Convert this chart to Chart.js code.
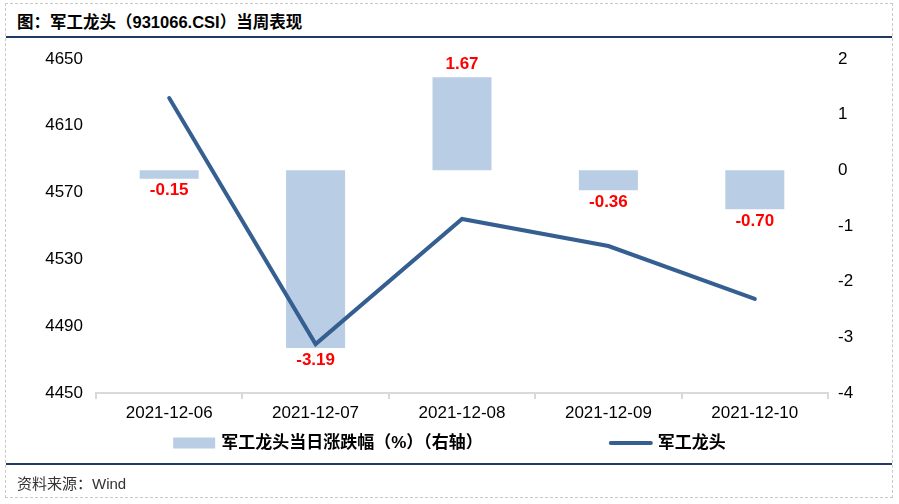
<!DOCTYPE html>
<html>
<head>
<meta charset="utf-8">
<script src="https://cdn.jsdelivr.net/npm/chart.js@4"></script>
<style>
  body { margin: 0; background: #fff; font-family: "Liberation Sans", Arial, "Noto Sans CJK SC", sans-serif; }
  #wrap { position: relative; width: 899px; height: 504px; overflow: hidden; }
  #frame { position: absolute; left: 5px; top: 3px; width: 886px; height: 493px; border: 1px dashed #c8c8c8; }
  #title { position: absolute; left: 17px; top: 9px; font-size: 16.5px; font-weight: bold; color: #000; }
  .rule { position: absolute; left: 6px; width: 886px; height: 2px; background: #1f3b63; }
  #source { position: absolute; left: 17px; top: 472px; font-size: 15px; color: #333; }
  canvas { position: absolute; left: 0; top: 0; }
</style>
</head>
<body>
<div id="wrap">
  <div id="frame"></div>
  <div id="title">图：军工龙头（931066.CSI）当周表现</div>
  <div class="rule" style="top:36px"></div>
  <canvas id="chart" width="899" height="504"></canvas>
  <div class="rule" style="top:463px"></div>
  <div id="source">资料来源：Wind</div>
</div>
<script>
const dates = ['2021-12-06', '2021-12-07', '2021-12-08', '2021-12-09', '2021-12-10'];
const dailyChange = [-0.15, -3.19, 1.67, -0.36, -0.70];
const indexClose = [4626.6, 4479.3, 4554.2, 4538.0, 4506.3];
const barLabel = '军工龙头当日涨跌幅（%）（右轴）';
const lineLabel = '军工龙头';

const FONT = '"Liberation Sans", Arial, "Noto Sans CJK SC", sans-serif';
const barColor = '#B9CDE5';
const lineColor = '#365F91';

// red value labels at the end of each bar
const barLabels = {
    id: 'barLabels',
    afterDatasetsDraw(chart) {
        const ctx = chart.ctx;
        const meta = chart.getDatasetMeta(1);
        ctx.save();
        ctx.font = 'bold 17px ' + FONT;
        ctx.fillStyle = '#FF0000';
        ctx.textAlign = 'center';
        ctx.textBaseline = 'middle';
        meta.data.forEach((bar, i) => {
            const v = dailyChange[i];
            const y = v >= 0 ? bar.y - 13 : bar.y + 12;
            ctx.fillText(v.toFixed(2), bar.x, y);
        });
        ctx.restore();
    }
};

// legend row under the x axis
const bottomLegend = {
    id: 'bottomLegend',
    afterDraw(chart) {
        const ctx = chart.ctx;
        const y = 443;
        ctx.save();
        ctx.font = 'bold 17px ' + FONT;
        ctx.textBaseline = 'middle';
        ctx.fillStyle = '#000';
        const w1 = ctx.measureText(barLabel).width;
        const w2 = ctx.measureText(lineLabel).width;
        const total = 42 + 6 + w1 + 126 + 44 + 5 + w2;
        let x = chart.width / 2 - total / 2;
        ctx.fillStyle = barColor;
        ctx.fillRect(x, y - 5.5, 42, 11);
        x += 48;
        ctx.fillStyle = '#000';
        ctx.fillText(barLabel, x, y);
        x += w1 + 126;
        ctx.strokeStyle = lineColor;
        ctx.lineWidth = 4;
        ctx.lineCap = 'round';
        ctx.beginPath();
        ctx.moveTo(x + 2, y);
        ctx.lineTo(x + 42, y);
        ctx.stroke();
        x += 49;
        ctx.fillText(lineLabel, x, y);
        ctx.restore();
    }
};

const tickFont = { family: FONT, size: 17 };

new Chart(document.getElementById('chart'), {
    data: {
        labels: dates,
        datasets: [
            {
                type: 'line',
                label: lineLabel,
                data: indexClose,
                yAxisID: 'y',
                borderColor: lineColor,
                borderWidth: 4,
                borderCapStyle: 'round',
                pointRadius: 0,
                tension: 0,
                order: 0
            },
            {
                type: 'bar',
                label: barLabel,
                data: dailyChange,
                yAxisID: 'y1',
                backgroundColor: barColor,
                categoryPercentage: 1,
                barPercentage: 0.403,
                order: 1
            }
        ]
    },
    options: {
        responsive: false,
        animation: false,
        devicePixelRatio: 1,
        layout: { padding: { top: 59, bottom: 71, left: 0, right: 0 } },
        plugins: { legend: { display: false }, tooltip: { enabled: false } },
        scales: {
            x: {
                offset: true,
                grid: { display: true, drawOnChartArea: false, drawTicks: true, tickLength: 6, color: '#D9D9D9', lineWidth: 2, offset: true },
                border: { display: true, color: '#D9D9D9', width: 2 },
                ticks: { font: tickFont, color: '#000', padding: 4, maxRotation: 0 },
                afterFit(scale) { scale.height = 40; }
            },
            y: {
                position: 'left',
                min: 4450,
                max: 4650,
                grid: { display: false, drawTicks: false },
                border: { display: false },
                ticks: { stepSize: 40, font: tickFont, color: '#000', padding: 13, callback: v => String(v) },
                afterFit(scale) { scale.width = 96; }
            },
            y1: {
                position: 'right',
                min: -4,
                max: 2,
                grid: { display: false, drawTicks: false },
                border: { display: false },
                ticks: { stepSize: 1, font: tickFont, color: '#000', padding: 10 },
                afterFit(scale) { scale.width = 71; }
            }
        }
    },
    plugins: [barLabels, bottomLegend]
});
</script>
</body>
</html>
